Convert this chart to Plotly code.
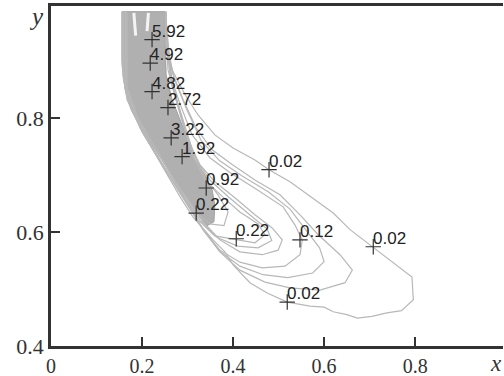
import plotly.graph_objects as go

# ---- contour label positions / values ----
label_text = ["5.92", "4.92", "4.82", "2.72", "3.22", "1.92", "0.92",
              "0.22", "0.22", "0.02", "0.12", "0.02", "0.02"]
label_x = [0.222, 0.218, 0.222, 0.257, 0.264, 0.288, 0.341,
           0.319, 0.407, 0.479, 0.547, 0.708, 0.519]
label_y = [0.937, 0.896, 0.846, 0.818, 0.765, 0.732, 0.677,
           0.633, 0.588, 0.709, 0.586, 0.574, 0.477]

# ---- contour lines (data units) ----
c002_x = [0.156, 0.156, 0.163, 0.169, 0.196, 0.233, 0.262, 0.284, 0.312, 0.356, 0.382, 0.400,
          0.437, 0.475, 0.519, 0.569, 0.600, 0.620, 0.650, 0.673, 0.705, 0.738, 0.770, 0.796,
          0.793, 0.767, 0.738, 0.708, 0.657, 0.620, 0.569, 0.525, 0.479, 0.448, 0.400,
          0.360, 0.323, 0.295, 0.266, 0.253, 0.253]
c002_y = [0.986, 0.902, 0.858, 0.832, 0.782, 0.732, 0.691, 0.661, 0.626, 0.586, 0.565, 0.542,
          0.511, 0.493, 0.477, 0.470, 0.468, 0.460, 0.455, 0.449, 0.452, 0.458, 0.462, 0.481,
          0.521, 0.537, 0.554, 0.574, 0.604, 0.633, 0.663, 0.688, 0.709, 0.726, 0.747,
          0.770, 0.805, 0.840, 0.884, 0.928, 0.986]

c007_x = [0.158, 0.158, 0.167, 0.200, 0.240, 0.273, 0.301, 0.334, 0.371, 0.415, 0.470, 0.525,
          0.591, 0.646, 0.662, 0.635, 0.587, 0.547, 0.503, 0.448, 0.398, 0.354, 0.319,
          0.290, 0.266, 0.253, 0.253]
c007_y = [0.986, 0.875, 0.832, 0.775, 0.723, 0.682, 0.647, 0.604, 0.565, 0.533, 0.512, 0.502,
          0.498, 0.511, 0.533, 0.560, 0.595, 0.630, 0.665, 0.691, 0.718, 0.744, 0.782,
          0.832, 0.881, 0.937, 0.986]

c009_x = [0.159, 0.159, 0.170, 0.203, 0.243, 0.276, 0.305, 0.336, 0.371, 0.415, 0.466, 0.520,
          0.575, 0.600, 0.590, 0.560, 0.525, 0.478, 0.420, 0.370, 0.330, 0.298, 0.270,
          0.255, 0.253]
c009_y = [0.986, 0.870, 0.828, 0.772, 0.720, 0.678, 0.641, 0.602, 0.566, 0.540, 0.525, 0.520,
          0.528, 0.548, 0.572, 0.604, 0.640, 0.670, 0.698, 0.725, 0.760, 0.815, 0.870,
          0.930, 0.986]

c012_x = [0.160, 0.160, 0.174, 0.207, 0.246, 0.279, 0.310, 0.338, 0.371, 0.415, 0.464, 0.514,
          0.547, 0.552, 0.536, 0.510, 0.453, 0.393, 0.349, 0.310, 0.284, 0.262, 0.253, 0.253]
c012_y = [0.986, 0.867, 0.823, 0.770, 0.718, 0.674, 0.635, 0.600, 0.568, 0.547, 0.537, 0.540,
          0.560, 0.586, 0.612, 0.644, 0.674, 0.704, 0.730, 0.770, 0.823, 0.875, 0.937, 0.986]

c017_x = [0.163, 0.163, 0.196, 0.235, 0.268, 0.301, 0.334, 0.371, 0.415, 0.464, 0.499, 0.508,
          0.486, 0.448, 0.404, 0.360, 0.327, 0.301, 0.279, 0.257, 0.251]
c017_y = [0.986, 0.863, 0.788, 0.740, 0.695, 0.656, 0.618, 0.586, 0.565, 0.560, 0.568, 0.586,
          0.607, 0.630, 0.660, 0.688, 0.718, 0.761, 0.823, 0.884, 0.986]

c019_x = [0.164, 0.164, 0.188, 0.226, 0.262, 0.295, 0.328, 0.365, 0.410, 0.455, 0.485,
          0.475, 0.440, 0.392, 0.350, 0.320, 0.294, 0.270, 0.255, 0.251]
c019_y = [0.986, 0.860, 0.800, 0.750, 0.702, 0.660, 0.620, 0.590, 0.575, 0.572, 0.585,
          0.605, 0.628, 0.660, 0.690, 0.725, 0.780, 0.850, 0.920, 0.986]

c022a_x = [0.165, 0.165, 0.180, 0.218, 0.257, 0.290, 0.323, 0.360, 0.407, 0.448, 0.470,
           0.455, 0.415, 0.378, 0.338, 0.310, 0.284, 0.262, 0.251]
c022a_y = [0.986, 0.858, 0.814, 0.761, 0.709, 0.665, 0.621, 0.593, 0.586, 0.581, 0.595,
           0.614, 0.635, 0.661, 0.691, 0.735, 0.805, 0.867, 0.986]

c022b_x = [0.167, 0.167, 0.191, 0.229, 0.266, 0.295, 0.319, 0.349, 0.380, 0.389, 0.367,
           0.338, 0.312, 0.290, 0.266, 0.251]
c022b_y = [0.986, 0.849, 0.800, 0.747, 0.695, 0.656, 0.633, 0.614, 0.611, 0.635, 0.665,
           0.695, 0.740, 0.796, 0.858, 0.986]

# dense band of high-level contours
band_x = [0.156, 0.156, 0.163, 0.176, 0.200, 0.229, 0.257, 0.284, 0.310, 0.327, 0.343,
          0.358, 0.360, 0.354, 0.338, 0.316, 0.301, 0.284, 0.266, 0.253, 0.251, 0.251, 0.156]
band_y = [0.986, 0.893, 0.849, 0.814, 0.779, 0.744, 0.709, 0.677, 0.647, 0.625, 0.611,
          0.618, 0.647, 0.674, 0.700, 0.726, 0.761, 0.796, 0.832, 0.875, 0.928, 0.986, 0.986]

streak1_x = [0.182, 0.186]
streak1_y = [0.984, 0.944]
streak2_x = [0.214, 0.211]
streak2_y = [0.984, 0.952]

x_ticks = [0, 0.2, 0.4, 0.6, 0.8]
x_tick_text = ["0", "0.2", "0.4", "0.6", "0.8"]
y_ticks = [0.4, 0.6, 0.8]
y_tick_text = ["0.4", "0.6", "0.8"]

fig = go.Figure()

fig.add_trace(go.Scatter(x=band_x, y=band_y, mode="lines", fill="toself",
                         fillcolor="#b0b0b0", line=dict(color="#a0a0a0", width=1),
                         hoverinfo="skip", showlegend=False))
for sx, sy in [(streak1_x, streak1_y), (streak2_x, streak2_y)]:
    fig.add_trace(go.Scatter(x=sx, y=sy, mode="lines", line=dict(color="#f4f4f4", width=3),
                             hoverinfo="skip", showlegend=False))

for cx, cy in [(c002_x, c002_y), (c007_x, c007_y), (c009_x, c009_y), (c012_x, c012_y),
               (c017_x, c017_y), (c019_x, c019_y), (c022a_x, c022a_y), (c022b_x, c022b_y)]:
    fig.add_trace(go.Scatter(x=cx, y=cy, mode="lines",
                             line=dict(color="#b8b8b8", width=1.2),
                             hoverinfo="skip", showlegend=False))

fig.add_trace(go.Scatter(x=label_x, y=label_y, mode="markers",
                         marker=dict(symbol="cross-thin", size=11,
                                     line=dict(color="#333333", width=1.2)),
                         hoverinfo="skip", showlegend=False))

for t, lx, ly in zip(label_text, label_x, label_y):
    fig.add_annotation(x=lx, y=ly, xref="x", yref="y", text=t, showarrow=False,
                       xanchor="left", yanchor="bottom", xshift=-2, yshift=-3,
                       font=dict(family="Liberation Sans", size=17, color="#222222"))

fig.add_annotation(x=-0.033, y=0.968, xref="paper", yref="paper", text="<i>y</i>",
                   xanchor="center", yanchor="middle", showarrow=False,
                   font=dict(family="Liberation Serif", size=25, color="#333"))
fig.add_annotation(x=0.985, y=-0.050, xref="paper", yref="paper", text="<i>x</i>",
                   xanchor="center", yanchor="middle", showarrow=False,
                   font=dict(family="Liberation Serif", size=23, color="#333"))

fig.update_layout(
    width=504, height=376,
    margin=dict(l=51, r=1, t=6, b=30, autoexpand=False),
    paper_bgcolor="white", plot_bgcolor="white",
    xaxis=dict(range=[0, 0.993], tickvals=x_ticks, ticktext=x_tick_text, automargin=False,
               showgrid=False, zeroline=False, showline=True, linecolor="#333",
               linewidth=2.5, mirror=True, ticks="inside", ticklen=9, tickwidth=2,
               tickcolor="#333",
               tickfont=dict(family="Liberation Serif", size=20, color="#333")),
    yaxis=dict(range=[0.4, 0.996], tickvals=y_ticks, ticktext=y_tick_text, automargin=False,
               showgrid=False, zeroline=False, showline=True, linecolor="#333",
               linewidth=2.5, ticks="inside", ticklen=9, tickwidth=2, tickcolor="#333",
               tickfont=dict(family="Liberation Serif", size=22, color="#333")),
)

fig.write_html("out.html", config={"displayModeBar": False},
               post_script="document.body.style.margin='0';document.body.style.padding='0';")
